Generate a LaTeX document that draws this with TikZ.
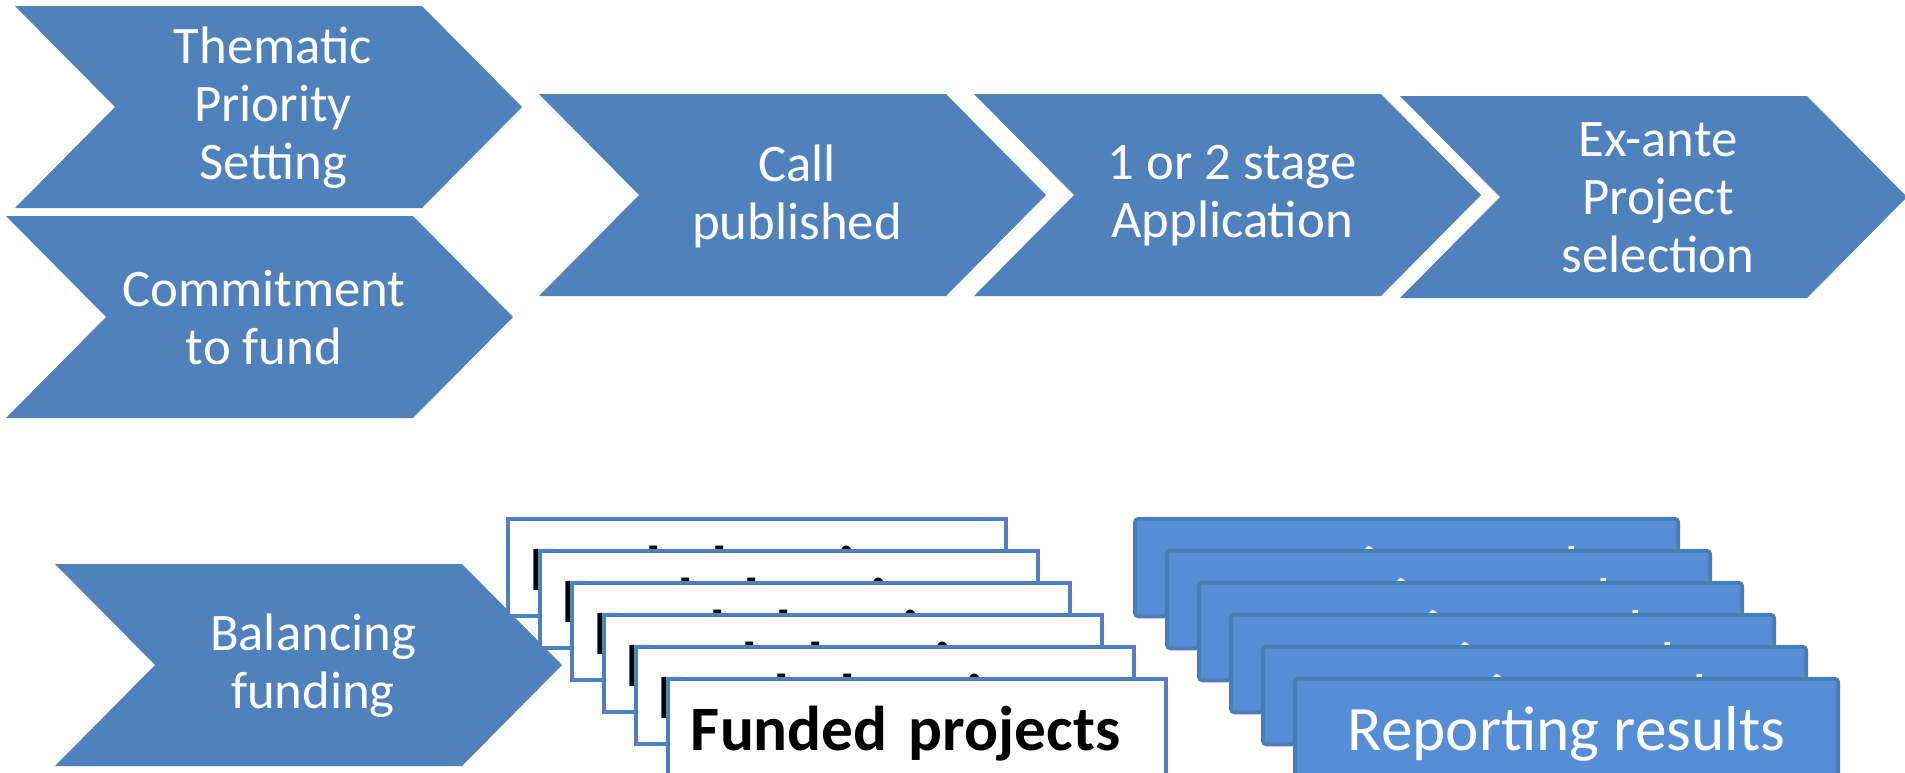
\documentclass[tikz,border=0pt]{standalone}
\usepackage{fontspec}
\setmainfont{Carlito}
\usepackage{tikz}

\definecolor{chevblue}{HTML}{4F81BD}
\definecolor{repfill}{HTML}{558ED5}
\definecolor{repedge}{HTML}{4A7EBB}

\newcommand{\fundfont}{\fontsize{18pt}{20pt}\selectfont\bfseries\spaceskip=0.16em\relax}

\tikzset{
	chev/.style={fill=chevblue},
	chevtext/.style={text=white, align=center, font=\fontsize{15pt}{16.5pt}\selectfont},
	fundbox/.style={draw=chevblue, line width=1.1pt, fill=white, anchor=north west, minimum width=4.98cm, minimum height=0.96cm, inner xsep=0.23cm, text width=4.52cm, text height=0.6cm, text depth=0.14cm, align=left, font=\fundfont},
	repbox/.style={draw=repedge, fill=repfill, line width=1.1pt, rounded corners=1pt, anchor=north west, minimum width=5.43cm, minimum height=0.96cm, text height=0.6cm, text depth=0.14cm, text=white, font=\fontsize{18pt}{20pt}\selectfont}
}

% chevron: name, left, top, text
\newcommand{\chevron}[4]{%
	\fill[chev] (#2,#3) -- ++(407,0) -- ++(100,101) -- ++(-100,101) -- ++(-407,0) -- ++(100,-101) -- cycle;
	\node[chevtext] (#1) at (#2+258,#3+102) {#4};
}

\begin{document}
\begin{tikzpicture}[x=0.01cm, y=-0.01cm]
	\useasboundingbox (0,0) rectangle (1905,772);

	\chevron{T}{15}{6}{Thematic\\Priority\\Setting}		% left pair
	\chevron{C}{6}{216}{Commitment\\to fund}

	\chevron{P}{539}{94}{Call\\published}				% upper row
	\chevron{A}{974}{94}{1 or 2 stage\\Application}
	\chevron{S}{1400}{96}{Ex-ante\\Project\\selection}

	\chevron{B}{55}{564}{Balancing\\funding}			% lower row

	\foreach \i in {0,...,5}							% stacked boxes
		\node[fundbox] (F\i) at (506+32*\i,517+32*\i) {Funded projects};
	\foreach \i in {0,...,5}
		\node[repbox] (R\i) at (1133+32*\i,517+32*\i) {Reporting results};
\end{tikzpicture}
\end{document}
